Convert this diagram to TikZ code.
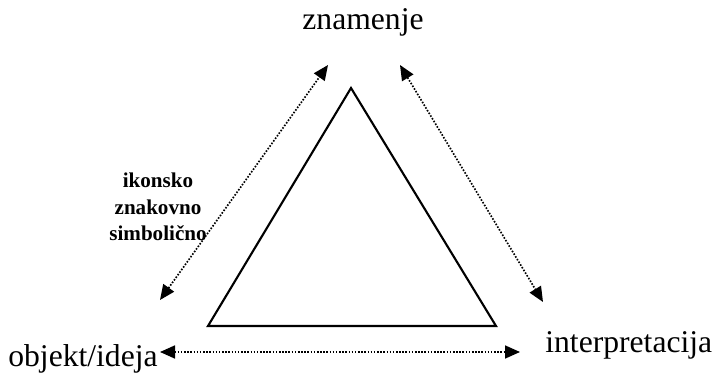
\documentclass[tikz,border=0pt]{standalone}
\usepackage{fontspec}
\setmainfont{Liberation Serif}
\usepackage{tikz}
\usetikzlibrary{arrows.meta,positioning}

\begin{document}
\begin{tikzpicture}[
  term/.style={font=\fontsize{18}{21}\selectfont, inner sep=0pt},
  lbl/.style={font=\fontsize{12}{15}\selectfont\bfseries, align=center, inner sep=0pt},
  tri/.style={line width=1.2pt, line join=miter},
  arr/.style={{Triangle[length=0.3cm,width=0.26cm]}-{Triangle[length=0.3cm,width=0.26cm]}, line width=0.95pt, dash pattern=on 0.9pt off 0.9pt}
]
\useasboundingbox (0,0) rectangle (14.24,7.48);

% Pojmi
\node[term, anchor=base] (znak) at (7.26, 6.88) {znamenje};
\node[term, anchor=base east] (obj) at (3.16, 0.14) {objekt/ideja};
\node[term, anchor=base west] (int) at (10.90, 0.42) {interpretacija};

% Trikotnik
\coordinate (vrh) at (7.02, 5.72);
\coordinate (levo) at (4.16, 0.96);
\coordinate (desno) at (9.92, 0.96);
\draw[tri] (vrh) -- (levo) -- (desno) -- cycle;

% Konci puscic
\coordinate (a1) at (3.20, 1.48);
\coordinate (a2) at (6.56, 6.18);
\coordinate (b1) at (8.00, 6.18);
\coordinate (b2) at (10.86, 1.44);
\coordinate (c1) at (3.20, 0.44);
\coordinate (c2) at (10.40, 0.44);

\draw[arr] (a1) -- (a2);
\draw[arr] (b1) -- (b2);
\draw[arr] (c1) -- (c2);

% Oznaka
\node[lbl] (vrste) at (3.16, 3.34) {ikonsko\\znakovno\\simbolično};
\end{tikzpicture}
\end{document}
